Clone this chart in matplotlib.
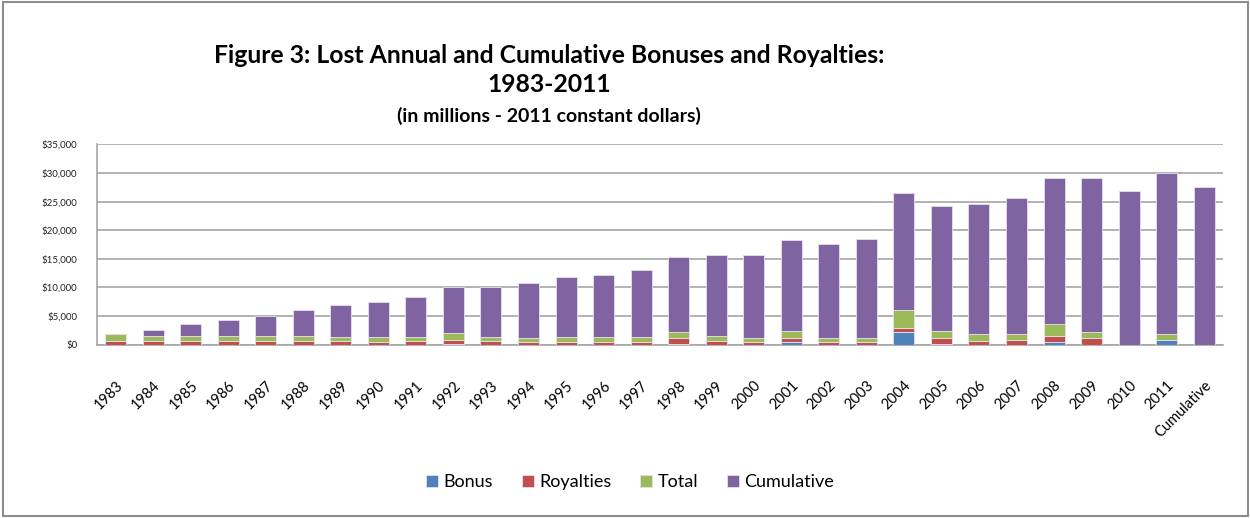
import numpy as np
import matplotlib
matplotlib.use("Agg")
import matplotlib.pyplot as plt
from matplotlib.patches import Rectangle

plt.rcParams['font.family'] = ['Lato', 'DejaVu Sans']

# categories
years = [str(y) for y in range(1983, 2012)] + ["Cumulative"]

# stacked segment values ($ millions)
bonus = [0, 0, 0, 0, 0, 0, 0, 0, 0, 170,
         0, 0, 0, 0, 0, 170, 0, 0, 410, 0,
         0, 2210, 170, 0, 0, 470, 0, 0, 870, 0]
royalties = [640, 640, 640, 640, 640, 640, 640, 410, 640, 700,
             640, 410, 410, 410, 410, 930, 700, 410, 690, 410,
             410, 700, 930, 640, 870, 1100, 1100, 0, 0, 0]
total = [1160, 930, 930, 930, 930, 930, 640, 930, 760, 1110,
         760, 690, 990, 990, 990, 1050, 870, 690, 1340, 690,
         690, 3080, 1340, 1160, 930, 1980, 1110, 0, 930, 0]
cumulative = [0, 930, 2080, 2750, 3400, 4530, 5570, 6140, 6950, 8060,
              8760, 9760, 10340, 10790, 11730, 13180, 14010, 14480, 15810, 16450,
              17380, 20590, 21800, 22740, 23840, 25650, 26990, 26760, 28200, 27630]

series = [("Bonus", bonus, "#4F81BD"),
          ("Royalties", royalties, "#C0504D"),
          ("Total", total, "#9BBB59"),
          ("Cumulative", cumulative, "#8064A2")]

fig = plt.figure(figsize=(12.5, 5.18), dpi=100)
ax = fig.add_axes([0.0774, 0.3346, 0.9010, 0.3868])

x = np.arange(len(years))
bottom = np.zeros(len(years))
for name, vals, col in series:
    vals = np.array(vals, dtype=float)
    ax.bar(x, vals, 0.56, bottom=bottom, color=col, label=name,
           edgecolor="#E6E0EE", linewidth=0.6, zorder=3)
    bottom += vals

ax.set_xlim(-0.5, len(years) - 0.5)
ax.set_ylim(0, 35000)
ax.set_yticks(np.arange(0, 35001, 5000))
ax.set_yticklabels(["${:,}".format(v) for v in range(0, 35001, 5000)],
                   fontsize=7, color="#222222")
ax.set_xticks(x)
ax.set_xticklabels(years, rotation=45, ha="right", rotation_mode="anchor",
                   fontsize=10.5)
ax.tick_params(axis="x", length=0, pad=24)
ax.tick_params(axis="y", length=0, pad=14)

ax.grid(axis="y", color="#A6A6A6", linewidth=1.2, zorder=0)
for s in ["top", "right"]:
    ax.spines[s].set_visible(False)
for s in ["left", "bottom"]:
    ax.spines[s].set_color("#A6A6A6")
    ax.spines[s].set_linewidth(1.2)

fig.text(0.439, 0.892, "Figure 3: Lost Annual and Cumulative Bonuses and Royalties:",
         ha="center", va="center", fontsize=17.8, fontweight="bold")
fig.text(0.439, 0.836, "1983-2011", ha="center", va="center",
         fontsize=17.8, fontweight="bold")
fig.text(0.439, 0.776, "(in millions - 2011 constant dollars)", ha="center",
         va="center", fontsize=14, fontweight="bold")

fig.legend(loc="center", bbox_to_anchor=(0.504, 0.069), ncol=4, frameon=False,
           fontsize=13, handlelength=0.65, handleheight=0.65, handletextpad=0.3,
           columnspacing=1.6)

fig.patches.append(Rectangle((0.002, 0.003), 0.996, 0.994, transform=fig.transFigure,
                             fill=False, edgecolor="#8C8C8C", linewidth=1.5))

fig.savefig("out.png", dpi=100)
